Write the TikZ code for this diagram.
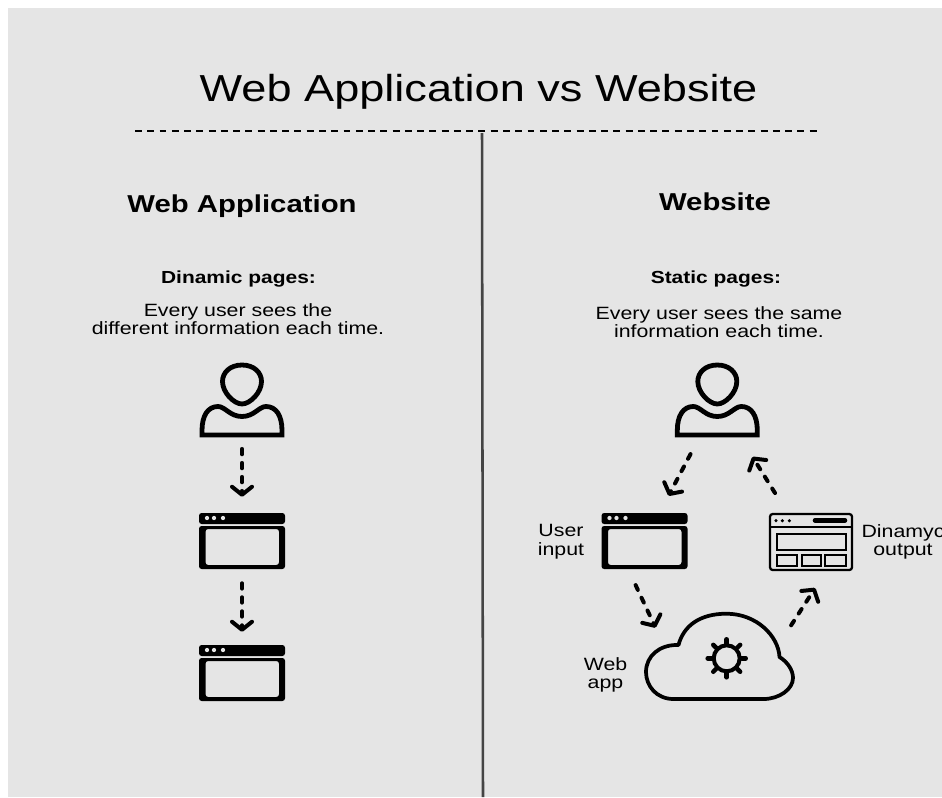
\documentclass[tikz,border=0pt]{standalone}
\usepackage{fontspec}
\setmainfont[FakeStretch=1.2]{Liberation Sans}
\usetikzlibrary{arrows.meta}

\definecolor{panelgray}{RGB}{229,229,229}
\definecolor{midline}{RGB}{68,68,68}

\tikzset{
  iconbox/.style={inner sep=0pt,minimum width=64.5pt,minimum height=42pt},
  userbox/.style={iconbox,minimum height=56.25pt},
  dynbox/.style={iconbox,minimum height=43.5pt},
  cloudbox/.style={inner sep=0pt,minimum width=113pt,minimum height=66.75pt},
  titletxt/.style={inner sep=0.75pt,font=\fontsize{28.2}{32}\selectfont},
  headtxt/.style={inner sep=0.75pt,font=\fontsize{18.33}{22}\selectfont\bfseries},
  subtxt/.style={inner sep=0.75pt,font=\fontsize{13.1}{16}\selectfont\bfseries},
  bodytxt/.style={inner sep=0.75pt,align=center,font=\fontsize{13.33}{14}\selectfont},
  flow/.style={line width=3pt,line cap=round,dash pattern=on 4pt off 6.5pt,
    -{Straight Barb[length=6pt,width=15pt,line width=3pt,round]}},
  usericon/.pic={
    \draw[line width=3.6pt] (0,-35.5) .. controls (12,-35.5) and (19.5,-28) .. (19.5,-19) .. controls (19.5,-8) and (8,3.5) .. (0,3.5) .. controls (-8,3.5) and (-19.5,-8) .. (-19.5,-19) .. controls (-19.5,-28) and (-12,-35.5) .. (0,-35.5) -- cycle ;
    \draw[line width=3.6pt] (-40,34.5) -- (-40,30) .. controls (-40,15) and (-34,6) .. (-24,6) .. controls (-17,6) and (-12,16) .. (0,16) .. controls (12,16) and (17,6) .. (24,6) .. controls (34,6) and (40,15) .. (40,30) -- (40,34.5) -- cycle ;
  },
  winicon/.pic={
    \fill[rounded corners=2pt] (-43,-17) -- (-43,-28) -- (43,-28) -- (43,-17) -- cycle ;
    \fill[rounded corners=2pt,even odd rule] (-43,-15) -- (43,-15) -- (43,28) -- (-43,28) -- cycle (-36.5,-12) -- (37,-12) -- (37,24) -- (-36.5,24) -- cycle ;
    \foreach \dotx in {-35,-28,-19} \fill[panelgray] (\dotx,-23) circle (1.6pt);
  },
  dynicon/.pic={
    \draw[line width=1.7pt,rounded corners=2pt] (-41,-28) rectangle (41,28);
    \draw[line width=1.7pt] (-41,-15) -- (41,-15);
    \foreach \dotx in {-35,-28.7,-21.7} \fill (\dotx,-21.3) circle (1.3pt);
    \draw[line width=3.4pt,line cap=round] (4,-21.6) -- (34,-21.6);
    \draw[line width=1.7pt] (-34.3,-8) rectangle (34.7,8);
    \draw[line width=1.7pt] (-34.3,13) rectangle (-13.7,23.7);
    \draw[line width=1.7pt] (-9.3,13) rectangle (9.7,23.7);
    \draw[line width=1.7pt] (14,13) rectangle (34.7,23.7);
  },
  cloudicon/.pic={
    \draw[line width=2.8pt,line join=round] (-46,43) .. controls (-63,43) and (-73.5,30) .. (-73.5,16) .. controls (-73.5,0) and (-60,-11) .. (-43,-11) -- (-41,-11) .. controls (-36,-30) and (-20,-42.3) .. (7,-42.3) .. controls (37,-42.3) and (59,-20) .. (60,1) .. controls (68,6) and (73.5,14) .. (73.5,22) .. controls (73.5,33) and (60,43) .. (44,43) -- cycle ;
    \draw[line width=3pt] (7.2,2.3) circle (9.75pt);
    \foreach \gearang in {0,45,...,315} \draw[line width=3.4pt,line cap=round] ([shift={(7.2,2.3)}]\gearang:15) -- ([shift={(7.2,2.3)}]\gearang:19);
  }
}

\begin{document}
\begin{tikzpicture}[x=0.75pt,y=0.75pt,yscale=-1,xscale=1]
\useasboundingbox (0,0) rectangle (942,797);
\fill[panelgray] (8,8) rectangle (942,797);

% title and rules
\node[titletxt] (title) at (478.5,92) {Web Application vs Website};
\coordinate (ruleleft) at (135,131);
\coordinate (ruleright) at (818,131);
\coordinate (midtop) at (482,133);
\coordinate (midbot) at (483,797);
\draw[line width=1.5pt,dash pattern=on 5.2pt off 4pt] (ruleleft) -- (ruleright);
\draw[line width=1.9pt,midline] (midtop) -- (midbot);

% left column
\node[headtxt] (headapp) at (242,206) {Web Application};
\node[subtxt] (subapp) at (238.5,279) {Dinamic pages:};
\node[bodytxt] (bodyapp) at (238,319) {Every user sees the\\different information each time.};
\node[userbox] (userapp) at (242,400.5) {};
\node[iconbox] (winapp) at (242,541) {};
\node[iconbox] (winapptwo) at (242,673) {};
\pic[yscale=-1] at (userapp) {usericon};
\pic[yscale=-1] at (winapp) {winicon};
\pic[yscale=-1] at (winapptwo) {winicon};
\draw[flow,shorten <=8pt,shorten >=12pt] (userapp) -- (winapp);
\draw[flow,shorten <=10.5pt,shorten >=9.75pt] (winapp) -- (winapptwo);

% right column
\node[headtxt] (headsite) at (715,202) {Website};
\node[subtxt] (subsite) at (716,279) {Static pages:};
\node[bodytxt] (bodysite) at (719,322) {Every user sees the same\\information each time.};
\node[userbox] (usersite) at (717.3,400.5) {};
\node[iconbox] (winsite) at (644.5,541) {};
\node[dynbox] (dynsite) at (811,542) {};
\node[cloudbox] (cloudsite) at (719.5,656) {};
\pic[yscale=-1] at (usersite) {usericon};
\pic[yscale=-1] at (winsite) {winicon};
\pic[yscale=-1] at (dynsite) {dynicon};
\pic[yscale=-1] at (cloudsite) {cloudicon};
\node[bodytxt] (labinput) at (561,542) {User\\input};
\node[bodytxt] (laboutput) at (903,542) {Dinamyc\\output};
\node[bodytxt] (labweb) at (605.5,675) {Web\\app};
\draw[flow,shorten <=13.4pt,shorten >=14.4pt] (usersite.-116) -- (winsite.62);
\draw[flow,shorten <=17.4pt,shorten >=16.4pt] (dynsite.129.3) -- (usersite.-58.7);
\draw[flow,shorten <=13.1pt,shorten >=-13.6pt] (winsite.-120.5) -- (cloudsite.148.6);
\draw[flow,shorten <=-5.5pt,shorten >=14.9pt] (cloudsite.26.2) -- (dynsite.-63.1);
\end{tikzpicture}
\end{document}
